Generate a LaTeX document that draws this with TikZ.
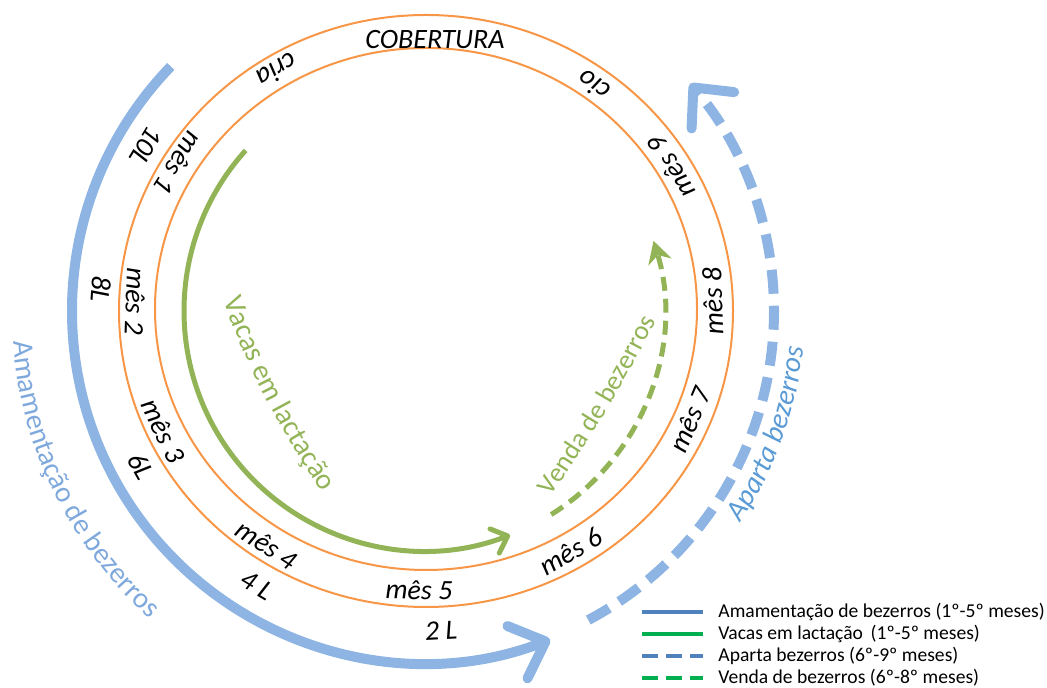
\documentclass[tikz,border=0pt]{standalone}
\usepackage{fontspec}
\setmainfont{Carlito}
\usepackage{tikz}
\usetikzlibrary{arrows.meta, decorations.text}
\definecolor{RingOrange}{HTML}{F79646}
\definecolor{CalfBlue}{HTML}{8DB4E2}
\definecolor{CowGreen}{HTML}{92B456}
\definecolor{SuckBlue}{HTML}{7FA9DD}
\definecolor{WeanBlue}{HTML}{5B9BD5}
\definecolor{LegBlue}{HTML}{4F81BD}
\definecolor{LegGreen}{HTML}{00B050}
\newcommand{\ringfont}{\fontsize{14}{16}\selectfont\itshape}
\newcommand{\arcfont}{\fontsize{14.5}{17}\selectfont}
\newcommand{\legfont}{\fontsize{9.8}{11}\selectfont}

\begin{document}
\begin{tikzpicture}[x=0.5pt, y=0.5pt,
    ring/.style={draw=RingOrange, line width=1pt},
    ringlbl/.style={font=\ringfont, inner sep=0pt},
    suckle/.style={draw=CalfBlue, line width=5pt, -{Straight Barb[length=15pt,width=28pt,round]}},
    wean/.style={suckle, dash pattern=on 12pt off 6pt},
    lactate/.style={draw=CowGreen, line width=2.5pt, -{Straight Barb[length=7pt,width=13pt,round]}},
    sale/.style={draw=CowGreen, line width=2.5pt, dash pattern=on 7pt off 4pt, -{Stealth[length=11pt,width=12pt]}},
    legline/.style={line width=2pt},
    leglbl/.style={font=\legfont, anchor=west, inner sep=0pt}]
    \useasboundingbox (-424,-377) rectangle (623,311);

    % Rings of the year
    \draw[ring] (2,0) ellipse [x radius=307, y radius=296];
    \draw[ring] (2,2) ellipse [x radius=271, y radius=261];

    % Months on the ring
    \node[ringlbl] (cobertura) at (11,271) {COBERTURA};
    \foreach \ang/\txt/\nm in {148/mês 1/mes1, 178/mês 2/mes2, 205.5/mês 3/mes3,
        237/mês 4/mes4, 269/mês 5/mes5, 300.5/mês 6/mes6, 337/mês 7/mes7,
        362/mês 8/mes8, 391/mês 9/mes9, 54/cio/cio, 120.5/cria/cria}
        \node[ringlbl, rotate=\ang+90] (\nm) at (\ang:289 and 279) {\txt};

    % Milk per day
    \foreach \ang/\txt/\nm in {149/10L/milk10, 176/8L/milk8, 209/6L/milk6,
        239/4 L/milk4, 273/2 L/milk2}
        \node[ringlbl, rotate=\ang+90] (\nm) at (\ang:324 and 320) {\txt};

    % Flows
    \draw[suckle] (136:352) arc[start angle=136, end angle=291, radius=352];
    \draw[wean] (-62:350) arc[start angle=-62, end angle=40.5, radius=350];
    \draw[lactate] (138:240) arc[start angle=138, end angle=291, radius=240];
    \draw[sale] (-58:240) arc[start angle=-58, end angle=17, radius=240];

    % Flow names
    \path[decorate, decoration={text along path, text align=center,
        text={|\arcfont\color{SuckBlue}|Amamentação de bezerros}}]
        (176.25:412) arc[start angle=176.25, end angle=236.25, radius=412];
    \path[decorate, decoration={text along path, text align=center,
        text={|\arcfont\itshape\color{WeanBlue}|Aparta bezerros}}]
        (-39.65:381) arc[start angle=-39.65, end angle=0.35, radius=381];
    \path[decorate, decoration={text along path, text align=center,
        text={|\arcfont\color{CowGreen}|Vacas em lactação}}]
        (-215.8,51.4) to[bend right=8] (-77.2,-217.4);
    \path[decorate, decoration={text along path, text align=center,
        text={|\fontsize{13.5}{16}\selectfont\color{CowGreen}|Venda de bezerros}}]
        (113,-206) to[bend right=4] (243,12);

    % Legend
    \node[leglbl] (leg1) at (294,-301) {Amamentação de bezerros (1º-5º meses)};
    \node[leglbl] (leg2) at (294,-323) {Vacas em lactação\, (1º-5º meses)};
    \node[leglbl] (leg3) at (294,-345) {Aparta bezerros (6º-9º meses)};
    \node[leglbl] (leg4) at (294,-367) {Venda de bezerros (6º-8º meses)};
    \draw[legline, LegBlue] (218,-301) -- (279,-301);
    \draw[legline, LegGreen] (218,-323) -- (279,-323);
    \draw[legline, LegBlue, dash pattern=on 8pt off 4pt] (218,-345) -- (279,-345);
    \draw[legline, LegGreen, dash pattern=on 8pt off 4pt] (218,-367) -- (279,-367);
\end{tikzpicture}
\end{document}
